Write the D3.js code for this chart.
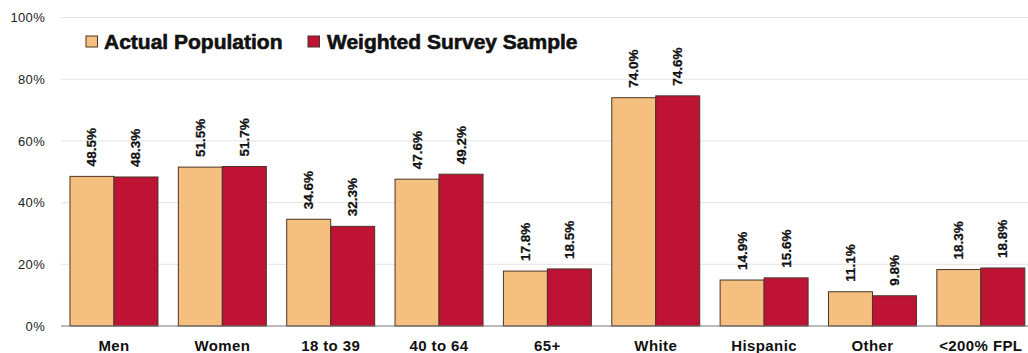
<!DOCTYPE html>
<html>
<head>
<meta charset="utf-8">
<script src="https://cdn.jsdelivr.net/npm/d3@7"></script>
<style>
  html, body { margin: 0; padding: 0; background: #fff; }
  svg { display: block; }
</style>
</head>
<body>
<svg id="chart" width="1028" height="353"></svg>
<script>
// Share of each group: actual population vs. weighted survey sample (%)
const categories = ["Men", "Women", "18 to 39", "40 to 64", "65+", "White", "Hispanic", "Other", "<200% FPL"];
const actualPopulation = [48.5, 51.5, 34.6, 47.6, 17.8, 74.0, 14.9, 11.1, 18.3];
const weightedSample = [48.3, 51.7, 32.3, 49.2, 18.5, 74.6, 15.6, 9.8, 18.8];
const seriesNames = ["Actual Population", "Weighted Survey Sample"];
const yTicks = [0, 20, 40, 60, 80, 100];

const colors = { "Actual Population": "#F5BF7F", "Weighted Survey Sample": "#BE1335" };

const series = [
  { name: seriesNames[0], values: actualPopulation },
  { name: seriesNames[1], values: weightedSample }
];

const svg = d3.select("#chart");
const W = 1028;

const x = d3.scaleBand()
  .domain(categories)
  .range([59.8, 1035])
  .paddingInner(0.188)
  .paddingOuter(0.094);

const xInner = d3.scaleBand()
  .domain(seriesNames)
  .range([0, x.bandwidth()])
  .padding(0);

const y = d3.scaleLinear().domain([0, 100]).range([326, 17.5]);

// horizontal gridlines
svg.append("g")
  .selectAll("line")
  .data(yTicks.filter(t => t > 0))
  .join("line")
  .attr("x1", 61).attr("x2", W)
  .attr("y1", d => y(d)).attr("y2", d => y(d))
  .attr("stroke", "#e4e4e4")
  .attr("stroke-width", 1);

// y axis tick labels
const yAxis = d3.axisLeft(y)
  .tickValues(yTicks)
  .tickFormat(d => d + "%")
  .tickSize(0)
  .tickPadding(0);

svg.append("g")
  .attr("transform", "translate(45,0)")
  .call(yAxis)
  .call(g => g.select(".domain").remove())
  .call(g => g.selectAll("text")
    .attr("font-family", "'Liberation Sans', Arial, sans-serif")
    .attr("font-size", 13)
    .attr("letter-spacing", 0.3)
    .attr("fill", "#222"));

// bars
const groups = svg.append("g")
  .selectAll("g")
  .data(categories)
  .join("g")
  .attr("transform", d => `translate(${x(d)},0)`);

groups.selectAll("rect")
  .data((c, i) => series.map(s => ({ name: s.name, value: s.values[i] })))
  .join("rect")
  .attr("x", d => xInner(d.name))
  .attr("y", d => y(d.value))
  .attr("width", xInner.bandwidth())
  .attr("height", d => y(0) - y(d.value))
  .attr("fill", d => colors[d.name])
  .attr("stroke", "#4a3426")
  .attr("stroke-width", 1);

// rotated value labels above each bar
groups.selectAll("text")
  .data((c, i) => series.map(s => ({ name: s.name, value: s.values[i] })))
  .join("text")
  .attr("transform", d => `translate(${xInner(d.name) + xInner.bandwidth() / 2 + 4.5},${y(d.value) - 10}) rotate(-90)`)
  .attr("text-anchor", "start")
  .attr("font-family", "'Liberation Sans Narrow', 'Arial Narrow', sans-serif")
  .attr("font-weight", "bold")
  .attr("font-size", 13.5)
  .attr("fill", "#111")
  .attr("stroke", "#111")
  .attr("stroke-width", 0.25)
  .text(d => d.value.toFixed(1) + "%");

// baseline
svg.append("line")
  .attr("x1", 61).attr("x2", W)
  .attr("y1", y(0)).attr("y2", y(0))
  .attr("stroke", "#777")
  .attr("stroke-width", 1.2);

// category labels
const xAxis = d3.axisBottom(x).tickSize(0).tickPadding(0);
svg.append("g")
  .attr("transform", "translate(0,351)")
  .call(xAxis)
  .call(g => g.select(".domain").remove())
  .call(g => g.selectAll("text")
    .attr("dy", 0)
    .attr("font-family", "'Liberation Sans', Arial, sans-serif")
    .attr("font-size", 15)
    .attr("font-weight", "bold")
    .attr("letter-spacing", 0.4)
    .attr("fill", "#111"));

// legend
const legendItems = [
  { name: seriesNames[0], x: 86, tx: 104 },
  { name: seriesNames[1], x: 308, tx: 327 }
];
const legend = svg.append("g");
legend.selectAll("rect")
  .data(legendItems)
  .join("rect")
  .attr("x", d => d.x).attr("y", 36)
  .attr("width", 11.5).attr("height", 11)
  .attr("fill", d => colors[d.name])
  .attr("stroke", "#4a3426")
  .attr("stroke-width", 1);
legend.selectAll("text")
  .data(legendItems)
  .join("text")
  .attr("x", d => d.tx).attr("y", 48.5)
  .attr("font-family", "'Liberation Sans', Arial, sans-serif")
  .attr("font-weight", "bold")
  .attr("font-size", 21)
  .attr("fill", "#111")
  .attr("stroke", "#111")
  .attr("stroke-width", 0.6)
  .text(d => d.name);
</script>
</body>
</html>
